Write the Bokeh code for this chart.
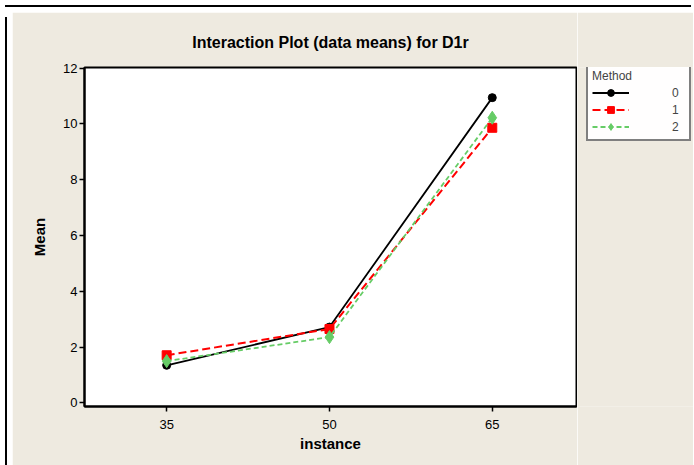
from bokeh.plotting import figure
from bokeh.layouts import row, column
from bokeh.models import Legend, LegendItem, FixedTicker, Range1d, Div
from bokeh.embed import file_html
from bokeh.resources import INLINE

instance = [35, 50, 65]
method_labels = ["0", "1", "2"]
mean_m0 = [1.35, 2.72, 10.94]
mean_m1 = [1.71, 2.65, 9.86]
mean_m2 = [1.50, 2.36, 10.22]
y_ticks = [0, 2, 4, 6, 8, 10, 12]

BG = "#EEEAE0"
FONT = "Liberation Sans"
STYLES = [
    dict(line_color="black", line_width=1.8, line_dash="solid", marker="circle", size=8, color="black"),
    dict(line_color="#FF0000", line_width=2, line_dash="8 4", marker="square", size=9, color="#FF0000"),
    dict(line_color="#66CC66", line_width=1.8, line_dash="5 3", marker="diamond", size=13, color="#66CC66"),
]
series = [mean_m0, mean_m1, mean_m2]

p = figure(width=565, height=455, output_backend="svg", toolbar_location=None,
           x_range=Range1d(27.43, 72.76), y_range=Range1d(-0.126, 12.02),
           min_border_left=72, min_border_right=1, min_border_top=55, min_border_bottom=61,
           background_fill_color="white", border_fill_color=BG)

p.title.text = "Interaction Plot (data means) for D1r"
p.title.align = "center"
p.title.text_font = FONT
p.title.text_font_size = "16px"
p.title.text_font_style = "bold"
p.title.text_color = "black"
p.title.standoff = 34

p.grid.visible = False
p.outline_line_color = "black"
p.outline_line_width = 2

for ax in (p.xaxis, p.yaxis):
    ax.axis_line_color = "black"
    ax.axis_line_width = 2
    ax.major_tick_line_color = "black"
    ax.major_tick_line_width = 1.5
    ax.major_tick_out = 5
    ax.major_tick_in = 0
    ax.minor_tick_line_color = None
    ax.major_label_text_font = FONT
    ax.major_label_text_font_size = "13px"
    ax.major_label_text_color = "black"
    ax.axis_label_text_font = FONT
    ax.axis_label_text_font_size = "15px"
    ax.axis_label_text_font_style = "bold"
    ax.axis_label_text_color = "black"

p.xaxis.ticker = FixedTicker(ticks=instance)
p.yaxis.ticker = FixedTicker(ticks=y_ticks)
p.xaxis.axis_label = "instance"
p.yaxis.axis_label = "Mean"
p.xaxis.major_label_standoff = 8
p.xaxis.axis_label_standoff = 3
p.yaxis.major_label_standoff = 2
p.yaxis.axis_label_standoff = 12

for ys, st in zip(series, STYLES):
    p.line(instance, ys, line_color=st["line_color"], line_width=st["line_width"], line_dash=st["line_dash"])
    p.scatter(instance, ys, marker=st["marker"], size=st["size"], fill_color=st["color"], line_color=st["color"])

# legend panel (its renderers use the same data, out of this panel's view)
q = figure(width=116, height=455, output_backend="svg", toolbar_location=None,
           x_range=Range1d(0, 1), y_range=Range1d(0, 1),
           min_border=0, background_fill_color=BG, border_fill_color=BG)
q.axis.visible = False
q.grid.visible = False
q.outline_line_color = None

items = []
for lab, ys, st in zip(method_labels, series, STYLES):
    rl = q.line(instance, ys, line_color=st["line_color"], line_width=st["line_width"], line_dash=st["line_dash"])
    rs = q.scatter(instance, ys, marker=st["marker"], size=st["size"], fill_color=st["color"], line_color=st["color"])
    items.append(LegendItem(label=lab, renderers=[rl, rs]))

legend = Legend(items=items, location=(9, 265), title="Method",
    title_text_font=FONT, title_text_font_size="12px", title_text_font_style="normal",
    label_text_font=FONT, label_text_font_size="12px",
    glyph_width=37, glyph_height=17, label_height=16, label_width=13, label_standoff=43,
    spacing=0, padding=4, margin=0, title_standoff=1,
    border_line_color="black", border_line_width=2, background_fill_color="white")
q.add_layout(legend, "center")

top_strip = Div(width=686, height=2, styles={"background-color": "black"})
left_strip = Div(width=2, height=455, styles={"background-color": "black"})

layout = column(top_strip, row(left_strip, p, q, spacing=0), spacing=0)
open("out.html", "w").write(file_html(layout, INLINE))
